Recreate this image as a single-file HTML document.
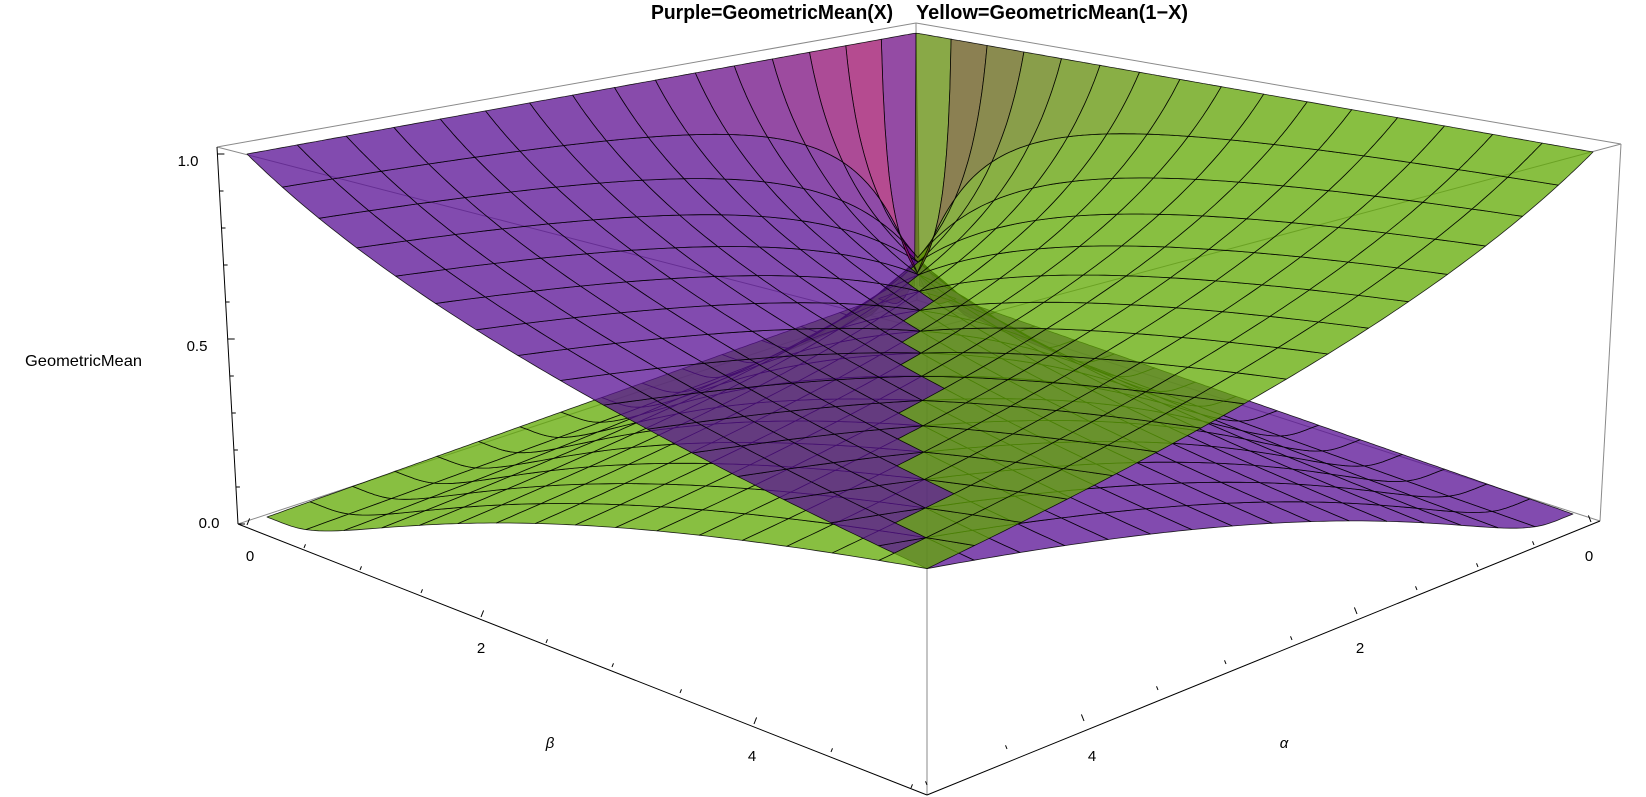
<!DOCTYPE html>
<html><head><meta charset="utf-8">
<style>
html,body{margin:0;padding:0;background:#fff;}
svg{display:block;}
text{font-family:"Liberation Sans",Arial,sans-serif;fill:#000;}
</style></head>
<body>
<svg id="svg" width="1646" height="797" viewBox="0 0 1646 797" xmlns="http://www.w3.org/2000/svg">
<rect width="1646" height="797" fill="#fff"/>
<g id="box" stroke="#8a8a8a" stroke-width="1" fill="none">
<line x1="217" y1="147" x2="916" y2="23"/>
<line x1="916" y1="23" x2="1621" y2="144"/>
<line x1="217" y1="147" x2="927" y2="330"/>
<line x1="1621" y1="144" x2="927" y2="330"/>
<line x1="238" y1="524" x2="917" y2="300"/>
<line x1="1600" y1="521" x2="917" y2="300"/>
<line x1="916" y1="23" x2="917" y2="300"/>
<line x1="1621" y1="144" x2="1600" y2="521"/>
<line x1="927" y1="330" x2="927" y2="795"/>
</g>
<g id="surf"></g>
<g stroke="#000" stroke-width="1" fill="none">
<line x1="217" y1="147" x2="238" y2="524"/>
<line x1="238" y1="524" x2="927" y2="795"/>
<line x1="927" y1="795" x2="1600" y2="521"/>
</g>
<g id="ticks" stroke="#000" stroke-width="1"></g>
<text x="651" y="19" font-size="20" font-weight="bold" textLength="242" lengthAdjust="spacingAndGlyphs">Purple=GeometricMean(X)</text>
<text x="916" y="19" font-size="20" font-weight="bold" textLength="272" lengthAdjust="spacingAndGlyphs">Yellow=GeometricMean(1−X)</text>
<text x="25" y="366" font-size="16" textLength="117" lengthAdjust="spacingAndGlyphs">GeometricMean</text>
<text x="188" y="166" font-size="15" text-anchor="middle">1.0</text>
<text x="197" y="351" font-size="15" text-anchor="middle">0.5</text>
<text x="209" y="528" font-size="15" text-anchor="middle">0.0</text>
<text x="250" y="561" font-size="15" text-anchor="middle">0</text>
<text x="481" y="653" font-size="15" text-anchor="middle">2</text>
<text x="752" y="761" font-size="15" text-anchor="middle">4</text>
<text x="550" y="748" font-size="15" font-style="italic" font-family="Liberation Serif" text-anchor="middle">β</text>
<text x="1589" y="561" font-size="15" text-anchor="middle">0</text>
<text x="1360" y="653" font-size="15" text-anchor="middle">2</text>
<text x="1092" y="761" font-size="15" text-anchor="middle">4</text>
<text x="1284" y="748" font-size="15" font-style="italic" font-family="Liberation Serif" text-anchor="middle">α</text>
</svg>
<script>
(function(){
function homog(p00,p10,p11,p01){
  var x0=p00[0],y0=p00[1],x1=p10[0],y1=p10[1],x2=p11[0],y2=p11[1],x3=p01[0],y3=p01[1];
  var sx=x0-x1+x2-x3, sy=y0-y1+y2-y3;
  var dx1=x1-x2,dx2=x3-x2,dy1=y1-y2,dy2=y3-y2;
  var den=dx1*dy2-dx2*dy1;
  var g=(sx*dy2-sy*dx2)/den, h=(dx1*sy-dy1*sx)/den;
  var a=x1-x0+g*x1,b=x3-x0+h*x3,c=x0,d=y1-y0+g*y1,e=y3-y0+h*y3,f=y0;
  return function(u,v){var w=g*u+h*v+1;return [(a*u+b*v+c)/w,(d*u+e*v+f)/w];};
}
var H0=homog([917,285],[267,517],[927,775],[1573,514]);
var H1=homog([916,33],[247,154],[927,340],[1593,152]);
function proj(a,b,z){var u=a/5,v=b/5;var p=H0(u,v),q=H1(u,v);return [p[0]+(q[0]-p[0])*z,p[1]+(q[1]-p[1])*z];}
function psi(x){var r=0;while(x<6){r-=1/x;x+=1;}var f=1/(x*x);
  return r+Math.log(x)-0.5/x-f*(1/12-f*(1/120-f*(1/252-f*(1/240-f/132))));}
function P(a,b){a=Math.max(a,0.001);b=Math.max(b,1e-9);return Math.exp(psi(a)-psi(a+b));}
function Y(a,b){b=Math.max(b,0.001);a=Math.max(a,1e-9);return Math.exp(psi(b)-psi(a+b));}
var N=16,S=6,cells=[];
function mix(c1,c2,t){return [c1[0]+(c2[0]-c1[0])*t,c1[1]+(c2[1]-c1[1])*t,c1[2]+(c2[2]-c1[2])*t];}
var surfs=[{f:P,base:[88,15,148],tint:[160,15,105],isP:true},{f:Y,base:[96,169,1],tint:[100,80,25],isP:false}];
surfs.forEach(function(s){
  for(var i=0;i<N;i++)for(var j=0;j<N;j++){
    var a0=5*i/N,a1=5*(i+1)/N,b0=5*j/N,b1=5*(j+1)/N,pts=[],k,zs=0,cnt=0;
    var SS=(i==0||j==0)?16:S;
    function add(a,b){var z=s.f(a,b);zs+=z;cnt++;var p=proj(a,b,z);pts.push(p[0].toFixed(1)+","+p[1].toFixed(1));}
    for(k=0;k<SS;k++)add(a0+(a1-a0)*k/SS,b0);
    for(k=0;k<SS;k++)add(a1,b0+(b1-b0)*k/SS);
    for(k=0;k<SS;k++)add(a1-(a1-a0)*k/SS,b1);
    for(k=0;k<SS;k++)add(a0,b1-(b1-b0)*k/SS);
    var am=(a0+a1)/2,bm=(b0+b1)/2,hh=0.05;
    var ga=(s.f(am+hh,bm)-s.f(Math.max(am-hh,0.001),bm))/(2*hh);
    var gb=(s.f(am,bm+hh)-s.f(am,Math.max(bm-hh,0.001)))/(2*hh);
    var g=Math.sqrt(ga*ga+gb*gb);
    var zav=zs/cnt;
    var zc=Math.max(s.f(am,bm),zav);
    var t=Math.min(1,Math.max(0,(g-0.3)/1.4))*Math.min(1,zc*1.6);
    if(((s.isP&&i==0)||(!s.isP&&j==0))&&zav>0.4)t=Math.max(t,0.85);
    var c=mix(s.base,s.tint,t);
    cells.push({pts:pts.join(" "),z:zav,c:c});
  }
});
cells.sort(function(x,y){return x.z-y.z;});
var G=document.getElementById("surf"),html="";
cells.forEach(function(c){
  html+='<polygon points="'+c.pts+'" fill="rgb('+Math.round(c.c[0])+','+Math.round(c.c[1])+','+Math.round(c.c[2])+')" fill-opacity="0.75" stroke="#000" stroke-opacity="0.85" stroke-width="0.8" stroke-linejoin="round"/>';
});
G.innerHTML=html;
var T=document.getElementById("ticks"),th="";
var bt=[[247,525],[304,548],[360,570],[421,593],[481,617],[546,643],[612,667],[680,693],[754,724],[831,752],[911,788]];
bt.forEach(function(p,i){var L=(i%4==0)?7:4;
  th+='<line x1="'+p[0]+'" y1="'+p[1]+'" x2="'+(p[0]+L*0.37)+'" y2="'+(p[1]-L*0.93)+'"/>';
  var x=1838-p[0],y=p[1]-3;
  th+='<line x1="'+x+'" y1="'+y+'" x2="'+(x-L*0.37)+'" y2="'+(y-L*0.93)+'"/>';
});
for(var q=0;q<=10;q++){var y=524-370*q/10,x=238-21*(524-y)/377;var L=(q%5==0)?7:4;
  th+='<line x1="'+x.toFixed(1)+'" y1="'+y.toFixed(1)+'" x2="'+(x+L).toFixed(1)+'" y2="'+y.toFixed(1)+'"/>';}
T.innerHTML=th;
})();
</script>
</body></html>
